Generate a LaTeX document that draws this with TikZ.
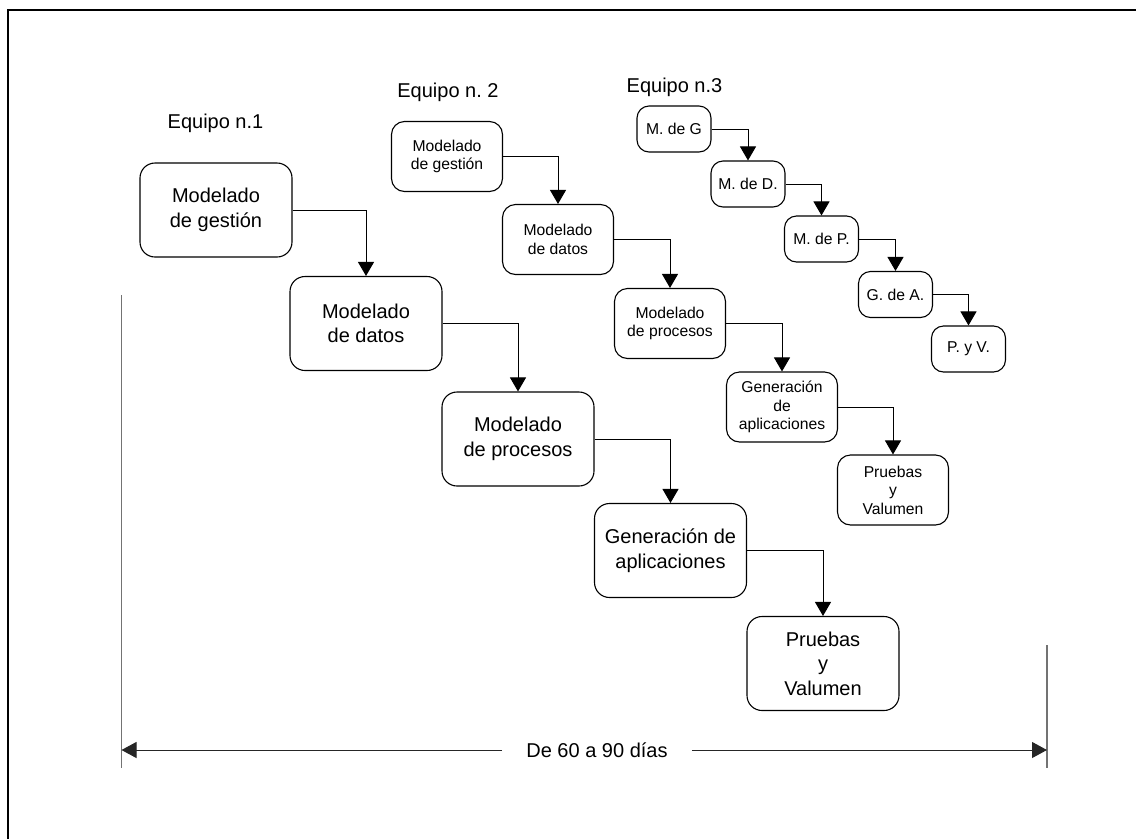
\documentclass[tikz,border=0pt]{standalone}
\usepackage{fontspec}
\setmainfont{Liberation Sans}
\usetikzlibrary{arrows.meta}
\frenchspacing

\begin{document}
\begin{tikzpicture}[x=1pt,y=-1pt,
  bigbox/.style={draw,line width=1.1pt,rounded corners=15pt,minimum width=152pt,minimum height=94pt,
    inner sep=0pt,align=center,font=\fontsize{20}{24.5}\selectfont},
  midbox/.style={draw,line width=1.1pt,rounded corners=13pt,minimum width=111pt,minimum height=70pt,
    inner sep=0pt,align=center,font=\fontsize{15.7}{18.5}\selectfont},
  smallbox/.style={draw,line width=1.1pt,rounded corners=12pt,minimum width=74pt,minimum height=46pt,
    inner sep=0pt,align=center,font=\fontsize{15.7}{18.5}\selectfont},
  link/.style={-{Triangle[length=14pt 0,width=16pt 0]},line width=1pt},
  dimarr/.style={-{Triangle[length=15pt 0,width=16pt 0]},line width=1pt,black!85},
  title/.style={anchor=base,font=\fontsize{20}{24}\selectfont}
]
  \useasboundingbox (0,0) rectangle (1136,839);

  % Frame
  \draw[line width=2pt] (8.3,839) -- (8.3,10.3) -- (1136,10.3);

  % Team 1
  \node[title] (t1) at (215.5,128) {Equipo n.1};
  \node[bigbox] (a1) at (216,210) {Modelado\\de gestión};
  \node[bigbox] (a2) at (366,323.5) {Modelado\\de datos};
  \node[bigbox] (a3) at (518,439) {Modelado\\de procesos};
  \node[bigbox] (a4) at (670.5,550.5) {Generación de\\aplicaciones};
  \node[bigbox] (a5) at (823,663.5) {Pruebas\\y\\Valumen};
  \draw[link] (a1.east) -| (a2.north);
  \draw[link] (a2.east) -| (a3.north);
  \draw[link] (a3.east) -| (a4.north);
  \draw[link] (a4.east) -| (a5.north);

  % Team 2
  \node[title] (t2) at (448,97) {Equipo n. 2};
  \node[midbox] (b1) at (447,156.5) {Modelado\\de gestión};
  \node[midbox] (b2) at (558,239.5) {Modelado\\de datos};
  \node[midbox] (b3) at (670,323.5) {Modelado\\de procesos};
  \node[midbox] (b4) at (782,407) {Generación\\de\\aplicaciones};
  \node[midbox] (b5) at (893,490) {Pruebas\\y\\Valumen};
  \draw[link] (b1.east) -| (b2.north);
  \draw[link] (b2.east) -| (b3.north);
  \draw[link] (b3.east) -| (b4.north);
  \draw[link] (b4.east) -| (b5.north);

  % Team 3
  \node[title] (t3) at (674.5,92) {Equipo n.3};
  \node[smallbox] (c1) at (674,129) {M. de G};
  \node[smallbox] (c2) at (748,184) {M. de D.};
  \node[smallbox] (c3) at (821.5,239) {M. de P.};
  \node[smallbox] (c4) at (895.5,294.5) {G. de A.};
  \node[smallbox] (c5) at (968.5,349) {P. y V.};
  \draw[link] (c1.east) -| (c2.north);
  \draw[link] (c2.east) -| (c3.north);
  \draw[link] (c3.east) -| (c4.north);
  \draw[link] (c4.east) -| (c5.north);

  % Time span
  \coordinate (lt) at (121.5,295);
  \coordinate (lb) at (121.5,768);
  \coordinate (rt) at (1047,645);
  \coordinate (rb) at (1047,768);
  \coordinate (lm) at (121.5,750);
  \coordinate (rm) at (1047,750);
  \draw[line width=1.3pt,black!55] (lt) -- (lb);
  \draw[line width=1.3pt,black!55] (rt) -- (rb);
  \node[font=\fontsize{20}{24}\selectfont,inner xsep=24pt] (span) at (597,750) {De 60 a 90 días};
  \draw[dimarr] (span.west) -- (lm);
  \draw[dimarr] (span.east) -- (rm);
\end{tikzpicture}
\end{document}
